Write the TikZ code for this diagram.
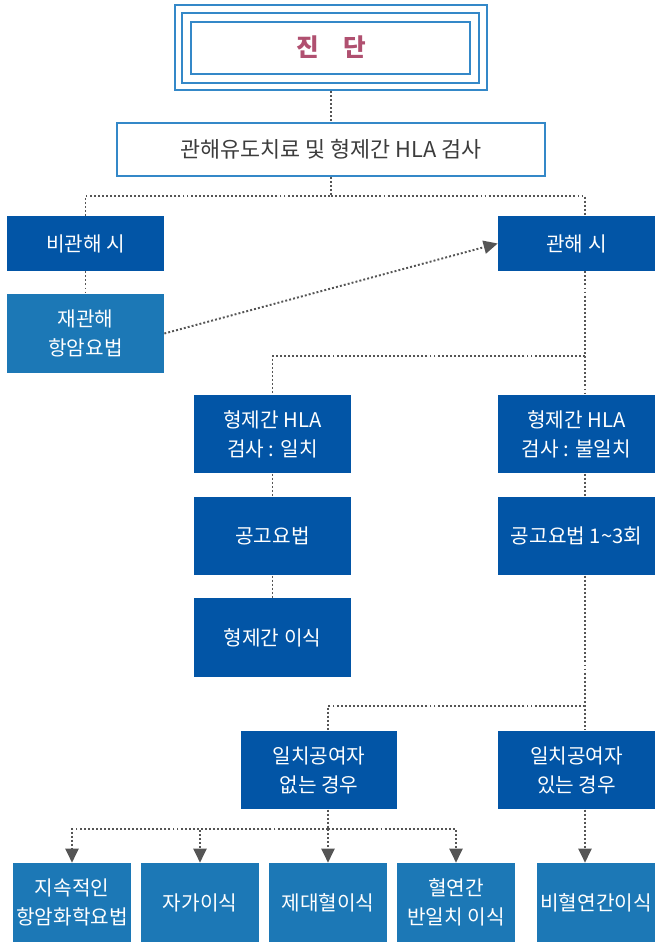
\documentclass[tikz,border=0pt]{standalone}
\usepackage{fontspec}
\newfontfamily\kr{Noto Sans CJK KR}
\usepackage{xcolor}
\usepackage{tikz}
\usetikzlibrary{calc}
\usetikzlibrary{arrows.meta}

\definecolor{darkblue}{RGB}{2,85,166}
\definecolor{midblue}{RGB}{28,120,182}
\definecolor{framecol}{RGB}{52,136,200}
\definecolor{titlered}{RGB}{176,80,112}
\definecolor{textgray}{RGB}{60,60,60}
\definecolor{linegray}{RGB}{85,85,85}

\begin{document}
\begin{tikzpicture}[x=0.02cm,y=-0.02cm,
    every node/.style={font=\kr\fontsize{11.5}{16.5}\selectfont,align=center,inner sep=0pt},
    darkbox/.style={fill=darkblue,text=white,minimum width=3.14cm,minimum height=1.57cm},
    lightbox/.style={fill=midblue,text=white,minimum width=2.36cm,minimum height=1.58cm},
    link/.style={linegray,line width=1.1pt,dash pattern=on 1.1pt off 1.2pt},
    tip/.style={link,-{Triangle[length=8pt,width=7.5pt]}}]
\useasboundingbox (0,0) rectangle (654,942);

% Title frame
\node[draw=framecol,line width=1pt,minimum width=6.24cm,minimum height=1.7cm,
      font=\kr\fontsize{14}{16}\bfseries,text=titlered] (jindan) at (331,47.5) {진\hspace{1em}단};
\draw[framecol,line width=1pt] ($(jindan.north west)+(8,9)$) rectangle ($(jindan.south east)+(-9,-8)$);
\draw[framecol,line width=1pt] ($(jindan.north west)+(17,18)$) rectangle ($(jindan.south east)+(-18,-17)$);

\node[draw=framecol,line width=1pt,fill=white,minimum width=8.56cm,minimum height=1.06cm,
      font=\kr\fontsize{12.4}{14}\selectfont,text=textgray] (treat) at (331,149.5) {관해유도치료 및 형제간 HLA 검사};

% Remission or not
\node[darkbox,minimum height=1.1cm] (bigwan) at (85.5,243.5) {비관해 시};
\node[darkbox,minimum height=1.1cm] (gwan) at (576.5,243.5) {관해 시};
\node[darkbox,fill=midblue,minimum height=1.58cm] (jaegwan) at (85.5,333.5) {재관해\\항암요법};

% HLA branches
\node[darkbox] (match) at (272.5,434) {형제간 HLA\\검사 : 일치};
\node[darkbox] (mismatch) at (576.5,434) {형제간 HLA\\검사 : 불일치};
\node[darkbox] (gonggo) at (272.5,536) {공고요법};
\node[darkbox] (gonggoN) at (576.5,536) {공고요법 1\textasciitilde 3회};
\node[darkbox] (sibtx) at (272.5,637.5) {형제간 이식};
\node[darkbox] (nodonor) at (319,770) {일치공여자\\없는 경우};
\node[darkbox] (donor) at (576.5,770) {일치공여자\\있는 경우};

% Transplant options
\node[lightbox] (chemo) at (72,902.5) {지속적인\\항암화학요법};
\node[lightbox] (auto) at (200,902.5) {자가이식};
\node[lightbox] (cord) at (328,902.5) {제대혈이식};
\node[lightbox] (haplo) at (456,902.5) {혈연간\\반일치 이식};
\node[lightbox] (unrel) at (596,902.5) {비혈연간이식};

% Connectors
\coordinate (rx) at (585,0);
\coordinate (mx) at (328,0);
\coordinate (split1) at (331,196);
\coordinate (split2) at (585,356);
\coordinate (split3) at (585,706);
\coordinate (split4) at (328,829);

\draw[link] (jindan.south) -- (treat.north);
\draw[link] (treat.south) -- (split1) -| (bigwan.north);
\draw[link] (split1) -| (rx |- gwan.north);
\draw[link] (bigwan.south) -- (jaegwan.north);
\draw[tip] (jaegwan.east) -- (gwan.west);

\draw[link] (rx |- gwan.south) -- (rx |- mismatch.north);
\draw[link] (split2) -| (match.north);
\draw[link] (match.south) -- (gonggo.north);
\draw[link] (gonggo.south) -- (sibtx.north);
\draw[link] (rx |- mismatch.south) -- (rx |- gonggoN.north);

\draw[link] (rx |- gonggoN.south) -- (rx |- donor.north);
\draw[link] (split3) -| (mx |- nodonor.north);
\draw[link] (mx |- nodonor.south) -- (split4);
\foreach \b in {chemo,auto,cord,haplo}
    \draw[tip] (split4) -| (\b.north);
\draw[tip] (rx |- donor.south) -- (rx |- unrel.north);
\end{tikzpicture}
\end{document}
